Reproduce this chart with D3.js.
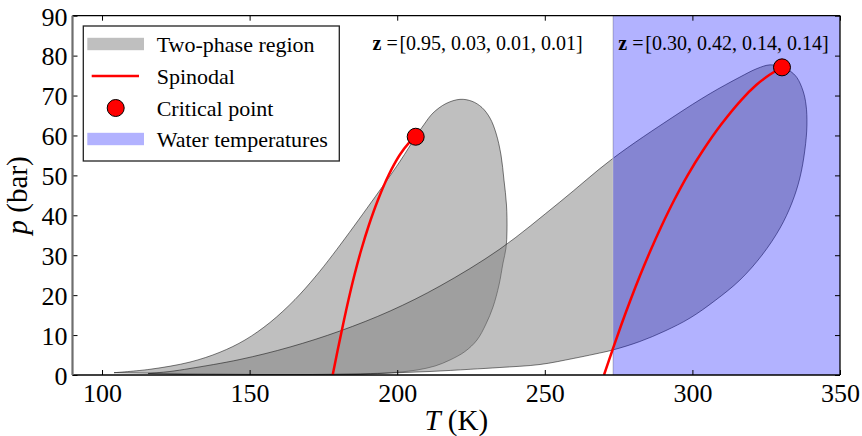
<!DOCTYPE html>
<html>
<head>
<meta charset="utf-8">
<script src="https://cdn.jsdelivr.net/npm/d3@7"></script>
<style>
  body { margin: 0; background: #fff; }
  svg, svg text { font-family: "Liberation Serif", "Times New Roman", serif; }
  .tick text { font-size: 26px; fill: #000; }
</style>
</head>
<body>
<div id="graf"></div>
<script>
// datos
const tTicks = [100, 150, 200, 250, 300, 350]
const pTicks = [0, 10, 20, 30, 40, 50, 60, 70, 80, 90]

// envolvente de fases z = [0.95, 0.03, 0.01, 0.01] (burbuja y luego rocio)
const envolvente1 = [
  [104.06, 0.58], [116.25, 1.43], [129.80, 3.24], [139.97, 5.71], [148.43, 8.77],
  [156.90, 13.15], [165.37, 18.91], [172.15, 24.52], [178.25, 30.20], [189.76, 41.77],
  [200.94, 53.52], [206.26, 59.68], [209.07, 62.73], [212.12, 65.62], [216.52, 67.99],
  [221.27, 69.05], [225.33, 68.57], [228.72, 66.99], [231.43, 64.36], [233.46, 60.61],
  [235.16, 55.10], [236.17, 48.84], [237.02, 42.57], [237.19, 36.31], [236.85, 31.80],
  [235.84, 28.05], [234.48, 22.54], [232.45, 17.03], [230.07, 12.77], [227.03, 8.77],
  [222.96, 5.89], [217.88, 3.76], [212.80, 2.25], [206.70, 1.25], [200.95, 0.75],
  [195.18, 0.43], [187.39, 0.15], [178.25, 0.0], [167.07, 0.0]
]
// envolvente de fases z = [0.30, 0.42, 0.14, 0.14]
const envolvente2 = [
  [115.6, 0.38], [123.0, 0.88], [129.8, 1.63], [146.7, 3.88], [163.7, 7.01],
  [180.6, 11.02], [197.6, 16.03], [214.5, 22.29], [234.8, 31.56], [255.1, 43.33],
  [273.0, 54.22], [293.4, 64.61], [306.0, 70.50], [316.1, 74.63], [321.9, 76.76],
  [326.3, 77.69], [330.4, 77.10], [333.1, 76.13], [335.4, 74.51], [337.5, 71.12],
  [338.5, 67.62], [338.8, 62.61], [338.1, 56.35], [336.4, 49.34], [333.7, 43.08],
  [329.7, 36.81], [323.6, 30.05], [316.1, 23.79], [307.7, 18.66], [299.2, 14.27],
  [290.7, 11.02], [282.2, 8.39], [273.0, 6.26], [267.0, 5.26], [259.6, 4.13],
  [248.4, 2.63], [234.8, 1.88], [224.7, 1.43], [211.1, 0.88], [197.6, 0.50],
  [184.0, 0.25], [167.1, 0.10], [150.1, 0.03], [133.2, 0.0]
]
const spinodal1 = [
  [178.14, 0], [179.84, 6.26], [181.62, 12.52], [183.48, 18.78], [185.51, 25.04],
  [187.80, 31.31], [190.42, 37.57], [193.47, 43.83], [197.11, 50.09], [200.84, 55.10],
  [203.89, 58.10], [206.26, 59.68]
]
const spinodal2 = [
  [270.05, 0], [272.93, 6.26], [275.89, 12.52], [279.02, 18.78], [282.33, 25.04],
  [285.88, 31.31], [289.70, 37.57], [293.84, 43.83], [298.42, 50.09], [303.67, 56.35],
  [309.60, 62.61], [316.54, 68.87], [321.62, 72.63], [326.03, 75.13], [330.35, 77.06]
]
const puntosCriticos = [[206.26, 59.68], [330.35, 77.06]]
const rangoAgua = [273.15, 350]
const composiciones = ["[0.95, 0.03, 0.01, 0.01]", "[0.30, 0.42, 0.14, 0.14]"]
const etiquetasLeyenda = ["Two-phase region", "Spinodal", "Critical point", "Water temperatures"]

const fuente = '"Liberation Serif", "Times New Roman", serif'
const anchoTotal = 862
const altoTotal = 436
const margins = { top: 15.7, right: 22, bottom: 61, left: 72.5 }
const ancho = anchoTotal - margins.left - margins.right
const alto = altoTotal - margins.top - margins.bottom

const svg = d3.select("#graf")
  .append("svg")
  .attr("width", anchoTotal)
  .attr("height", altoTotal)
  .attr("font-family", fuente)

const g = svg.append("g")
  .attr("transform", `translate(${margins.left}, ${margins.top})`)

// Escaladores
const x = d3.scaleLinear().domain([90, 350]).range([0, ancho])
const y = d3.scaleLinear().domain([0, 90]).range([alto, 0])

svg.append("defs").append("clipPath").attr("id", "area")
  .append("rect").attr("width", ancho).attr("height", alto)

const plot = g.append("g").attr("clip-path", "url(#area)")

const linea = d3.line()
  .x(d => x(d[0]))
  .y(d => y(d[1]))
  .curve(d3.curveCatmullRom.alpha(0.5))

// envolventes
;[envolvente1, envolvente2].forEach(env => {
  plot.append("path")
    .attr("d", linea(env) + "Z")
    .attr("fill", "#808080")
    .attr("fill-opacity", 0.5)
    .attr("stroke", "#000")
    .attr("stroke-opacity", 0.5)
    .attr("stroke-width", 1)
})

// borde del rango de agua
plot.append("line")
  .attr("x1", x(rangoAgua[0])).attr("x2", x(rangoAgua[0]))
  .attr("y1", 0).attr("y2", alto)
  .attr("stroke", "#c8c8c8").attr("stroke-width", 1.2)

plot.append("rect")
  .attr("x", x(rangoAgua[0]))
  .attr("y", 0)
  .attr("width", x(rangoAgua[1]) - x(rangoAgua[0]))
  .attr("height", alto)
  .attr("fill", "#0000ff")
  .attr("fill-opacity", 0.3)

// espinodales
;[spinodal1, spinodal2].forEach(sp => {
  plot.append("path")
    .attr("d", linea(sp))
    .attr("fill", "none")
    .attr("stroke", "#ff0000")
    .attr("stroke-width", 2.5)
})

// puntos criticos
g.selectAll("circle.cp")
  .data(puntosCriticos)
  .enter()
  .append("circle")
  .attr("class", "cp")
  .attr("cx", d => x(d[0]))
  .attr("cy", d => y(d[1]))
  .attr("r", 8.5)
  .attr("fill", "#ff0000")
  .attr("stroke", "#000")
  .attr("stroke-width", 1)

// Ejes (ticks hacia adentro)
const xAxis = g.append("g")
  .attr("transform", `translate(0, ${alto})`)
  .call(d3.axisBottom(x).tickValues(tTicks).tickSizeInner(-5).tickSizeOuter(0).tickPadding(9))
xAxis.selectAll("text").attr("dy", "0.71em")
const yAxis = g.append("g")
  .call(d3.axisLeft(y).tickValues(pTicks).tickSizeInner(-5).tickSizeOuter(0).tickPadding(5))
g.append("g")
  .call(d3.axisTop(x).tickValues(tTicks).tickSizeInner(-5).tickSizeOuter(0).tickFormat(""))
g.append("g")
  .attr("transform", `translate(${ancho}, 0)`)
  .call(d3.axisRight(y).tickValues(pTicks).tickSizeInner(-5).tickSizeOuter(0).tickFormat(""))

g.selectAll(".domain").remove()
g.selectAll(".tick line").attr("stroke", "#000")
g.selectAll("g").attr("font-family", null).attr("font-size", null)
g.selectAll(".tick text").style("font-family", fuente).style("font-size", "26px")
yAxis.selectAll("text").attr("dy", "0.36em")

// marco
g.append("line").attr("x1", 0).attr("x2", ancho).attr("y1", 0).attr("y2", 0)
  .attr("stroke", "#000").attr("stroke-width", 1.3)
g.append("line").attr("x1", 0).attr("x2", ancho).attr("y1", alto).attr("y2", alto)
  .attr("stroke", "#000").attr("stroke-width", 1.3)
g.append("line").attr("x1", ancho).attr("x2", ancho).attr("y1", 0).attr("y2", alto)
  .attr("stroke", "#000").attr("stroke-width", 1.3)
g.append("line").attr("x1", 0).attr("x2", 0).attr("y1", 0).attr("y2", alto)
  .attr("stroke", "#6e6e6e").attr("stroke-width", 2.2)

// Titulos de ejes
const xLabel = svg.append("text")
  .attr("x", margins.left + ancho / 2)
  .attr("y", 430)
  .attr("text-anchor", "middle")
  .style("font-family", fuente)
  .style("font-size", "29px")
xLabel.append("tspan").attr("font-style", "italic").text("T")
xLabel.append("tspan").text(" (K)")

const yLabel = svg.append("text")
  .attr("transform", `translate(27, ${margins.top + alto / 2}) rotate(-90)`)
  .attr("text-anchor", "middle")
  .style("font-family", fuente)
  .style("font-size", "29px")
yLabel.append("tspan").attr("font-style", "italic").text("p")
yLabel.append("tspan").text(" (bar)")

// anotaciones de composicion
const posAnot = [191.6, 274.9]
composiciones.forEach((c, i) => {
  const x0 = x(posAnot[i])
  const t = g.append("text")
    .attr("y", 50 - margins.top)
    .style("font-size", "20px")
  t.append("tspan").attr("x", x0).attr("font-weight", "bold").text("z")
  t.append("tspan").attr("x", x0 + 14).text("=")
  t.append("tspan").attr("x", x0 + 27).text(c)
})

// Leyenda
const ley = svg.append("g")
ley.append("rect")
  .attr("x", 83.3).attr("y", 26)
  .attr("width", 256).attr("height", 135)
  .attr("fill", "#fff")
  .attr("stroke", "#222")
  .attr("stroke-width", 1.3)

const filas = [44, 76, 108, 139]
ley.append("rect").attr("x", 87.3).attr("y", filas[0] - 6.2).attr("width", 56.7).attr("height", 12.4)
  .attr("fill", "#808080").attr("fill-opacity", 0.5)
ley.append("line").attr("x1", 91.7).attr("x2", 139).attr("y1", filas[1]).attr("y2", filas[1])
  .attr("stroke", "#ff0000").attr("stroke-width", 2.5)
ley.append("circle").attr("cx", 115.7).attr("cy", filas[2]).attr("r", 8.5)
  .attr("fill", "#ff0000").attr("stroke", "#000").attr("stroke-width", 1)
ley.append("rect").attr("x", 87.3).attr("y", filas[3] - 6.2).attr("width", 56.7).attr("height", 12.4)
  .attr("fill", "#0000ff").attr("fill-opacity", 0.3)

ley.selectAll("text.ley")
  .data(etiquetasLeyenda)
  .enter()
  .append("text")
  .attr("class", "ley")
  .attr("x", 156.7)
  .attr("y", (d, i) => filas[i] + 8)
  .style("font-size", "22px")
  .text(d => d)
</script>
</body>
</html>
